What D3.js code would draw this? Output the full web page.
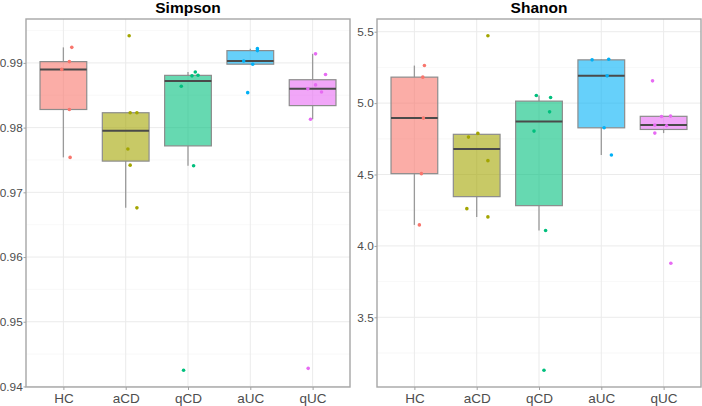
<!DOCTYPE html>
<html>
<head>
<meta charset="utf-8">
<script src="https://cdn.jsdelivr.net/npm/d3@7"></script>
<style>
  body { margin: 0; background: #fff; }
  svg { display: block; font-family: "Liberation Sans", Arial, sans-serif; }
</style>
</head>
<body>
<div id="chart"></div>
<script>
// groups and colours (ggplot hue palette)
var groups = ["HC", "aCD", "qCD", "aUC", "qUC"];
var colors = ["#F8766D", "#A3A500", "#00BF7D", "#00B0F6", "#E76BF3"];

// Simpson index per sample, one array per group
var simpsonValues = [
  [0.9924, 0.9902, 0.9890, 0.9828, 0.9754],
  [0.9942, 0.9823, 0.9823, 0.9767, 0.9742, 0.9676],
  [0.9864, 0.9880, 0.9886, 0.9881, 0.9741, 0.9425],
  [0.9903, 0.9898, 0.9922, 0.9919, 0.9854],
  [0.9914, 0.9882, 0.9866, 0.9860, 0.9855, 0.9813, 0.9428]
];
// horizontal jitter of the points, in category units
var simpsonJitter = [
  [0.135, 0.096, -0.026, 0.096, 0.108],
  [0.056, 0.072, 0.18, 0.035, 0.072, 0.18],
  [-0.108, 0.064, 0.117, 0.161, 0.09, -0.071],
  [-0.106, 0.039, 0.114, 0.114, -0.042],
  [0.047, 0.207, 0.047, -0.077, 0.143, -0.034, -0.071]
];

// Shannon index per sample
var shanonValues = [
  [5.263, 5.182, 4.895, 4.506, 4.147],
  [5.472, 4.762, 4.788, 4.597, 4.261, 4.203],
  [5.053, 5.039, 4.939, 4.804, 4.108, 3.129],
  [5.303, 5.307, 5.191, 4.827, 4.637],
  [5.156, 4.906, 4.909, 4.846, 4.841, 4.790, 3.879]
];
var shanonJitter = [
  [0.161, 0.135, 0.145, 0.113, 0.08],
  [0.18, -0.132, 0.019, 0.18, -0.158, 0.18],
  [-0.043, 0.186, 0.17, -0.08, 0.106, 0.08],
  [-0.148, 0.119, 0.093, 0.045, 0.162],
  [-0.178, -0.034, 0.111, -0.141, 0.047, -0.141, 0.116]
];

var simpsonTicks = [0.94, 0.95, 0.96, 0.97, 0.98, 0.99];
var simpsonMinor = [0.945, 0.955, 0.965, 0.975, 0.985, 0.995];
var shanonTicks = [3.5, 4.0, 4.5, 5.0, 5.5];
var shanonMinor = [3.25, 3.75, 4.25, 4.75, 5.25];

var W = 702, H = 406;
var panelTop = 19, panelBottom = 387;

var svg = d3.select("#chart").append("svg")
  .attr("width", W)
  .attr("height", H);

function drawPanel(left, right, title, values, jitter, ticks, minor, fmt) {
  var all = d3.merge(values);
  var lo = d3.min(all), hi = d3.max(all);
  var pad = (hi - lo) * 0.05;

  var y = d3.scaleLinear().domain([lo - pad, hi + pad]).range([panelBottom, panelTop]);
  var x = d3.scalePoint().domain(groups).range([left, right]).padding(0.6);
  var step = x.step();
  var boxW = step * 0.75;

  var g = svg.append("g");

  // grid
  g.selectAll(".minor").data(minor).enter().append("line")
    .attr("x1", left).attr("x2", right)
    .attr("y1", function(d) { return y(d); })
    .attr("y2", function(d) { return y(d); })
    .attr("stroke", "#f3f3f3").attr("stroke-width", 0.6);
  g.selectAll(".major").data(ticks).enter().append("line")
    .attr("x1", left).attr("x2", right)
    .attr("y1", function(d) { return y(d); })
    .attr("y2", function(d) { return y(d); })
    .attr("stroke", "#ebebeb").attr("stroke-width", 1);
  g.selectAll(".vgrid").data(groups).enter().append("line")
    .attr("x1", function(d) { return x(d); })
    .attr("x2", function(d) { return x(d); })
    .attr("y1", panelTop).attr("y2", panelBottom)
    .attr("stroke", "#ebebeb").attr("stroke-width", 1);

  // box statistics
  var stats = values.map(function(v, i) {
    var s = v.slice().sort(d3.ascending);
    var q1 = d3.quantile(s, 0.25), med = d3.quantile(s, 0.5), q3 = d3.quantile(s, 0.75);
    var iqr = q3 - q1;
    var wLo = d3.min(s.filter(function(d) { return d >= q1 - 1.5 * iqr; }));
    var wHi = d3.max(s.filter(function(d) { return d <= q3 + 1.5 * iqr; }));
    return { group: groups[i], color: colors[i], q1: q1, med: med, q3: q3, lo: wLo, hi: wHi };
  });

  var box = g.selectAll(".box").data(stats).enter().append("g");
  box.append("line")
    .attr("x1", function(d) { return x(d.group); })
    .attr("x2", function(d) { return x(d.group); })
    .attr("y1", function(d) { return y(d.hi); })
    .attr("y2", function(d) { return y(d.q3); })
    .attr("stroke", "#9a9a9a").attr("stroke-width", 1.3);
  box.append("line")
    .attr("x1", function(d) { return x(d.group); })
    .attr("x2", function(d) { return x(d.group); })
    .attr("y1", function(d) { return y(d.q1); })
    .attr("y2", function(d) { return y(d.lo); })
    .attr("stroke", "#9a9a9a").attr("stroke-width", 1.3);
  box.append("rect")
    .attr("x", function(d) { return x(d.group) - boxW / 2; })
    .attr("width", boxW)
    .attr("y", function(d) { return y(d.q3); })
    .attr("height", function(d) { return y(d.q1) - y(d.q3); })
    .attr("fill", function(d) { return d.color; })
    .attr("fill-opacity", 0.6)
    .attr("stroke", "#8c8c8c").attr("stroke-width", 1.2);
  box.append("line")
    .attr("x1", function(d) { return x(d.group) - boxW / 2; })
    .attr("x2", function(d) { return x(d.group) + boxW / 2; })
    .attr("y1", function(d) { return y(d.med); })
    .attr("y2", function(d) { return y(d.med); })
    .attr("stroke", "#4a4a4a").attr("stroke-width", 2);

  // jittered points
  values.forEach(function(v, i) {
    g.selectAll(".pt" + i).data(v).enter().append("circle")
      .attr("cx", function(d, j) { return x(groups[i]) + jitter[i][j] * step; })
      .attr("cy", function(d) { return y(d); })
      .attr("r", 1.8)
      .attr("fill", colors[i]);
  });

  // panel border
  g.append("rect")
    .attr("x", left).attr("y", panelTop)
    .attr("width", right - left).attr("height", panelBottom - panelTop)
    .attr("fill", "none").attr("stroke", "#a6a6a6").attr("stroke-width", 1.4);

  // axes
  var yAxis = d3.axisLeft(y).tickValues(ticks).tickFormat(fmt).tickSize(2.5).tickPadding(0.8);
  var ya = g.append("g").attr("transform", "translate(" + left + ",0)").call(yAxis);
  ya.select(".domain").remove();
  ya.selectAll(".tick line").attr("stroke", "#a0a0a0");
  ya.selectAll("text").attr("fill", "#4d4d4d").style("font-size", "11.8px");

  var xAxis = d3.axisBottom(x).tickSize(3).tickPadding(3);
  var xa = g.append("g").attr("transform", "translate(0," + panelBottom + ")").call(xAxis);
  xa.select(".domain").remove();
  xa.selectAll(".tick line").attr("stroke", "#a0a0a0");
  xa.selectAll("text").attr("fill", "#4d4d4d").style("font-size", "13.5px");

  // title
  g.append("text")
    .attr("x", (left + right) / 2).attr("y", 13)
    .attr("text-anchor", "middle")
    .style("font-size", "15.5px").style("font-weight", "bold")
    .attr("fill", "#000")
    .text(title);
}

drawPanel(26, 350, "Simpson", simpsonValues, simpsonJitter, simpsonTicks, simpsonMinor, d3.format(".2f"));
drawPanel(377, 701, "Shanon", shanonValues, shanonJitter, shanonTicks, shanonMinor, d3.format(".1f"));
</script>
</body>
</html>
